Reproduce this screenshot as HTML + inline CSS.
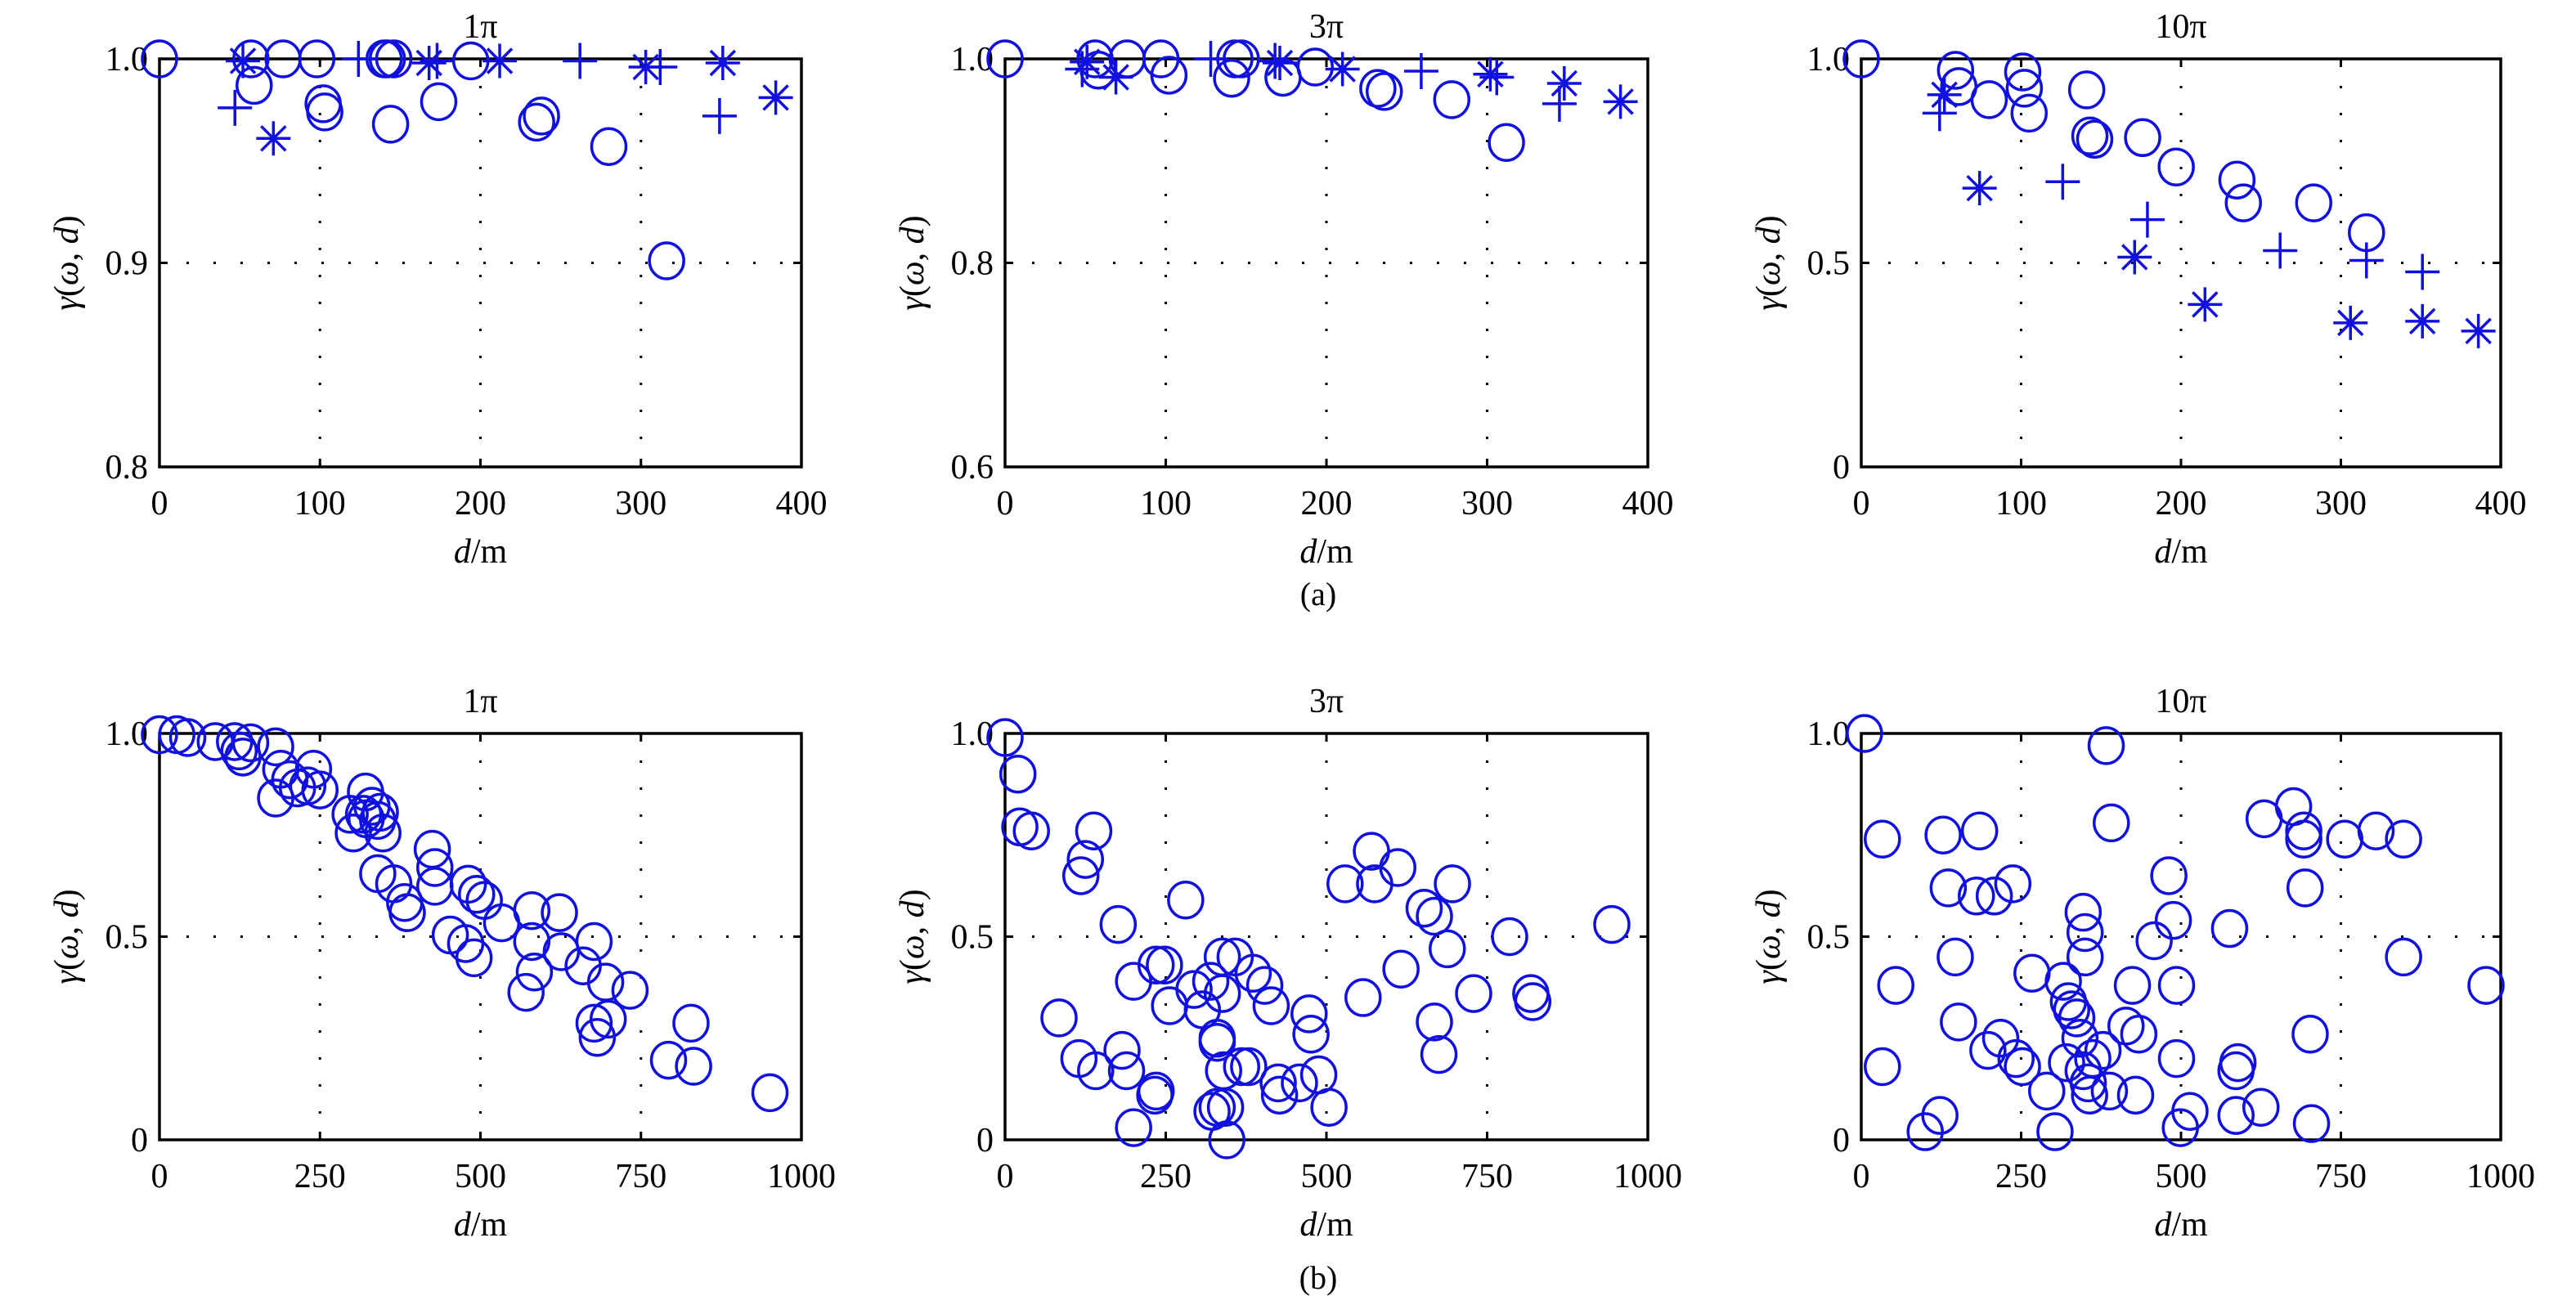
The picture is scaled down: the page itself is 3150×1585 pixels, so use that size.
<!DOCTYPE html>
<html><head><meta charset="utf-8"><style>
html,body{margin:0;padding:0;background:#fff;}
svg{display:block;font-family:"Liberation Serif",serif;}
</style></head><body>
<svg id="fig" width="3150" height="1585" viewBox="0 0 3150 1585" xmlns="http://www.w3.org/2000/svg">
<rect width="3150" height="1585" fill="#fff"/>
<text x="1612" y="740" font-size="40" text-anchor="middle">(a)</text>
<text x="1612" y="1576" font-size="40" text-anchor="middle">(b)</text>
</svg>
<script>
// ---- data ----
const a1Circles = [[0,1],[57,1],[59,0.987],[77,1],[98,1],[102,0.978],[103,0.974],[140,1],[142,1],[144,0.968],[146,1],[174,0.979],[194,0.999],[235,0.969],[238,0.972],[280,0.957],[316,0.901]];
const a1Plus = [[47,0.976],[124,1.0],[173,0.999],[262,0.999],[312,0.996],[349,0.972]];
const a1Star = [[52,0.999],[71,0.961],[168,0.998],[212,0.999],[303,0.996],[351,0.998],[384,0.981]];
const a2Circles = [[0,1],[56,1],[58,0.989],[76,1],[97,1],[102,0.984],[141,0.981],[143,1],[147,1],[173,0.982],[193,0.992],[232,0.971],[236,0.968],[278,0.960],[312,0.918]];
const a2Plus = [[48,0.99],[128,1.0],[168,0.998],[259,0.988],[306,0.982],[345,0.956]];
const a2Star = [[51,0.997],[69,0.982],[171,0.996],[210,0.99],[302,0.985],[348,0.976],[383,0.958]];
const a3Circles = [[0,1],[59,0.972],[61,0.932],[80,0.90],[101,0.968],[102,0.928],[105,0.867],[141,0.924],[143,0.811],[146,0.803],[176,0.807],[197,0.735],[235,0.703],[239,0.647],[283,0.647],[316,0.574]];
const a3Plus = [[49,0.867],[126,0.699],[179,0.606],[262,0.53],[316,0.506],[351,0.478]];
const a3Star = [[52,0.912],[74,0.683],[171,0.514],[215,0.398],[306,0.353],[351,0.357],[386,0.333]];
const b1Circles = [[0,0.997],[27,0.997],[44,0.99],[87,0.98],[117,0.98],[124,0.957],[142,0.977],[130,0.942],[181,0.967],[189,0.912],[181,0.841],[203,0.886],[215,0.866],[240,0.912],[231,0.871],[250,0.861],[321,0.856],[297,0.801],[302,0.755],[318,0.801],[331,0.821],[340,0.786],[344,0.806],[348,0.755],[322,0.79],[340,0.655],[365,0.63],[382,0.584],[386,0.559],[425,0.715],[429,0.67],[429,0.624],[481,0.629],[494,0.604],[506,0.589],[533,0.534],[580,0.564],[623,0.559],[453,0.504],[477,0.483],[490,0.448],[580,0.488],[584,0.413],[571,0.363],[626,0.463],[660,0.428],[677,0.488],[695,0.388],[733,0.368],[677,0.287],[682,0.252],[699,0.297],[793,0.196],[828,0.287],[832,0.181],[951,0.116]];
const b2Circles = [[0,0.99],[20,0.90],[23,0.77],[41,0.76],[84,0.30],[118,0.65],[125,0.69],[138,0.76],[115,0.20],[141,0.17],[176,0.53],[182,0.22],[189,0.17],[200,0.39],[200,0.03],[233,0.11],[235,0.12],[235,0.43],[248,0.43],[256,0.33],[281,0.59],[294,0.37],[307,0.32],[320,0.39],[330,0.25],[330,0.24],[322,0.07],[330,0.08],[338,0.45],[338,0.36],[340,0.17],[343,0.08],[345,0.0],[358,0.45],[368,0.18],[379,0.18],[386,0.41],[404,0.38],[414,0.33],[425,0.14],[427,0.11],[458,0.14],[473,0.31],[476,0.26],[488,0.16],[504,0.08],[529,0.63],[557,0.35],[570,0.71],[575,0.63],[611,0.67],[616,0.42],[652,0.57],[668,0.55],[668,0.29],[675,0.21],[688,0.47],[696,0.63],[729,0.36],[785,0.50],[818,0.36],[821,0.34],[944,0.53]];
const b3Circles = [[5,1.0],[33,0.74],[33,0.18],[54,0.38],[100,0.02],[123,0.06],[128,0.75],[136,0.62],[147,0.45],[152,0.29],[180,0.60],[185,0.76],[198,0.22],[208,0.60],[218,0.25],[237,0.63],[242,0.20],[252,0.18],[267,0.41],[290,0.12],[303,0.02],[316,0.39],[321,0.19],[324,0.34],[329,0.32],[337,0.30],[342,0.25],[347,0.17],[347,0.56],[350,0.51],[350,0.45],[355,0.14],[357,0.11],[362,0.20],[378,0.22],[383,0.97],[388,0.12],[391,0.78],[414,0.28],[424,0.38],[434,0.26],[429,0.11],[458,0.49],[481,0.65],[488,0.54],[493,0.38],[493,0.20],[499,0.03],[514,0.07],[576,0.52],[586,0.17],[589,0.19],[586,0.06],[625,0.08],[630,0.79],[676,0.82],[692,0.76],[692,0.74],[694,0.62],[702,0.26],[704,0.04],[756,0.74],[805,0.76],[848,0.74],[848,0.45],[977,0.38]];
const xTicksA = [0,100,200,300,400];
const xTicksB = [0,250,500,750,1000];
const yTicksA1 = [0.8,0.9,1.0], yLabelsA1 = ["0.8","0.9","1.0"];
const yTicksA2 = [0.6,0.8,1.0], yLabelsA2 = ["0.6","0.8","1.0"];
const yTicks01 = [0,0.5,1.0], yLabels01 = ["0","0.5","1.0"];
const titles = ["1π","3π","10π"];

const NS = "http://www.w3.org/2000/svg";
const svg = document.getElementById('fig');
const BLUE = "#1010e0";
function mk(tag, attrs, parent){const e=document.createElementNS(NS,tag);for(const k in attrs)e.setAttribute(k,attrs[k]);(parent||svg).appendChild(e);return e;}

function panel(opt){
  const {L,R,T,B,xmin,xmax,ymin,ymax,xt,yt,yl,title,circles,plus,star,id} = opt;
  const g = mk('g',{});
  
  
  const sx = v => L + (v-xmin)/(xmax-xmin)*(R-L);
  const sy = v => B - (v-ymin)/(ymax-ymin)*(B-T);
  // grid
  xt.forEach(v=>{ if(v>xmin && v<xmax){const l=mk('line',{x1:sx(v),x2:sx(v),y1:T,y2:B,stroke:'#000','stroke-width':3,'stroke-dasharray':'3 30'},g);
    
    }});
  yt.forEach(v=>{ if(v>ymin && v<ymax){const l=mk('line',{x1:L,x2:R,y1:sy(v),y2:sy(v),stroke:'#000','stroke-width':3,'stroke-dasharray':'3 30'},g);
    
    }});
  // ticks & labels
  xt.forEach(v=>{
    mk('line',{x1:sx(v),x2:sx(v),y1:B,y2:B-10,stroke:'#000','stroke-width':3},g);
    mk('line',{x1:sx(v),x2:sx(v),y1:T,y2:T+10,stroke:'#000','stroke-width':3},g);
    const t=mk('text',{x:sx(v),y:B+58,'font-size':42,'text-anchor':'middle'},g);t.textContent=v;
    
    
  });
  yt.forEach((v,i)=>{
    mk('line',{x1:L,x2:L+10,y1:sy(v),y2:sy(v),stroke:'#000','stroke-width':3},g);
    mk('line',{x1:R,x2:R-10,y1:sy(v),y2:sy(v),stroke:'#000','stroke-width':3},g);
    const t=mk('text',{x:L-14,y:sy(v)+14,'font-size':42,'text-anchor':'end'},g);t.textContent=yl[i];
    
    
  });
  const box=mk('rect',{x:L,y:T,width:R-L,height:B-T,fill:'none',stroke:'#000','stroke-width':3.5},g);
  
  
  const tt=mk('text',{x:(L+R)/2,y:T-26,'font-size':42,'text-anchor':'middle'},g);tt.textContent=title;
  
  
  const xl=mk('text',{x:(L+R)/2,y:B+117,'font-size':42,'text-anchor':'middle'},g);
  xl.innerHTML='<tspan font-style="italic">d</tspan>/m';
  
  
  const yc=(T+B)/2;
  const yla=mk('text',{x:L-100,y:yc,'font-size':42,'text-anchor':'middle',transform:`rotate(-90 ${L-100} ${yc})`},g);
  yla.innerHTML='<tspan font-style="italic">γ</tspan>(<tspan font-style="italic">ω</tspan>, <tspan font-style="italic">d</tspan>)';
  
  
  // marks
  (circles||[]).forEach(p=>{
    const c=mk('ellipse',{cx:sx(p[0]),cy:sy(p[1]),rx:21,ry:22,fill:'none',stroke:BLUE,'stroke-width':3.5},g);
    
    
  });
  (plus||[]).forEach(p=>{
    const x=sx(p[0]),y=sy(p[1]);
    const e=mk('path',{d:`M${x-21} ${y}H${x+21}M${x} ${y-22}V${y+22}`,stroke:BLUE,'stroke-width':3.5,fill:'none'},g);
    
    
  });
  (star||[]).forEach(p=>{
    const x=sx(p[0]),y=sy(p[1]),r=21,d=15;
    const e=mk('path',{d:`M${x-r} ${y}H${x+r}M${x} ${y-r}V${y+r}M${x-d} ${y-d}L${x+d} ${y+d}M${x-d} ${y+d}L${x+d} ${y-d}`,stroke:BLUE,'stroke-width':3.5,fill:'none'},g);
    
    
  });
}
const cols=[[195,980],[1229,2015],[2276,3058]];
const rowA=[72,571], rowB=[897,1394];
panel({id:'a1',L:cols[0][0],R:cols[0][1],T:rowA[0],B:rowA[1],xmin:0,xmax:400,ymin:0.8,ymax:1.0,xt:xTicksA,yt:yTicksA1,yl:yLabelsA1,title:titles[0],circles:a1Circles,plus:a1Plus,star:a1Star});
panel({id:'a2',L:cols[1][0],R:cols[1][1],T:rowA[0],B:rowA[1],xmin:0,xmax:400,ymin:0.6,ymax:1.0,xt:xTicksA,yt:yTicksA2,yl:yLabelsA2,title:titles[1],circles:a2Circles,plus:a2Plus,star:a2Star});
panel({id:'a3',L:cols[2][0],R:cols[2][1],T:rowA[0],B:rowA[1],xmin:0,xmax:400,ymin:0,ymax:1.0,xt:xTicksA,yt:yTicks01,yl:yLabels01,title:titles[2],circles:a3Circles,plus:a3Plus,star:a3Star});
panel({id:'b1',L:cols[0][0],R:cols[0][1],T:rowB[0],B:rowB[1],xmin:0,xmax:1000,ymin:0,ymax:1.0,xt:xTicksB,yt:yTicks01,yl:yLabels01,title:titles[0],circles:b1Circles});
panel({id:'b2',L:cols[1][0],R:cols[1][1],T:rowB[0],B:rowB[1],xmin:0,xmax:1000,ymin:0,ymax:1.0,xt:xTicksB,yt:yTicks01,yl:yLabels01,title:titles[1],circles:b2Circles});
panel({id:'b3',L:cols[2][0],R:cols[2][1],T:rowB[0],B:rowB[1],xmin:0,xmax:1000,ymin:0,ymax:1.0,xt:xTicksB,yt:yTicks01,yl:yLabels01,title:titles[2],circles:b3Circles});
</script>
</body></html>
